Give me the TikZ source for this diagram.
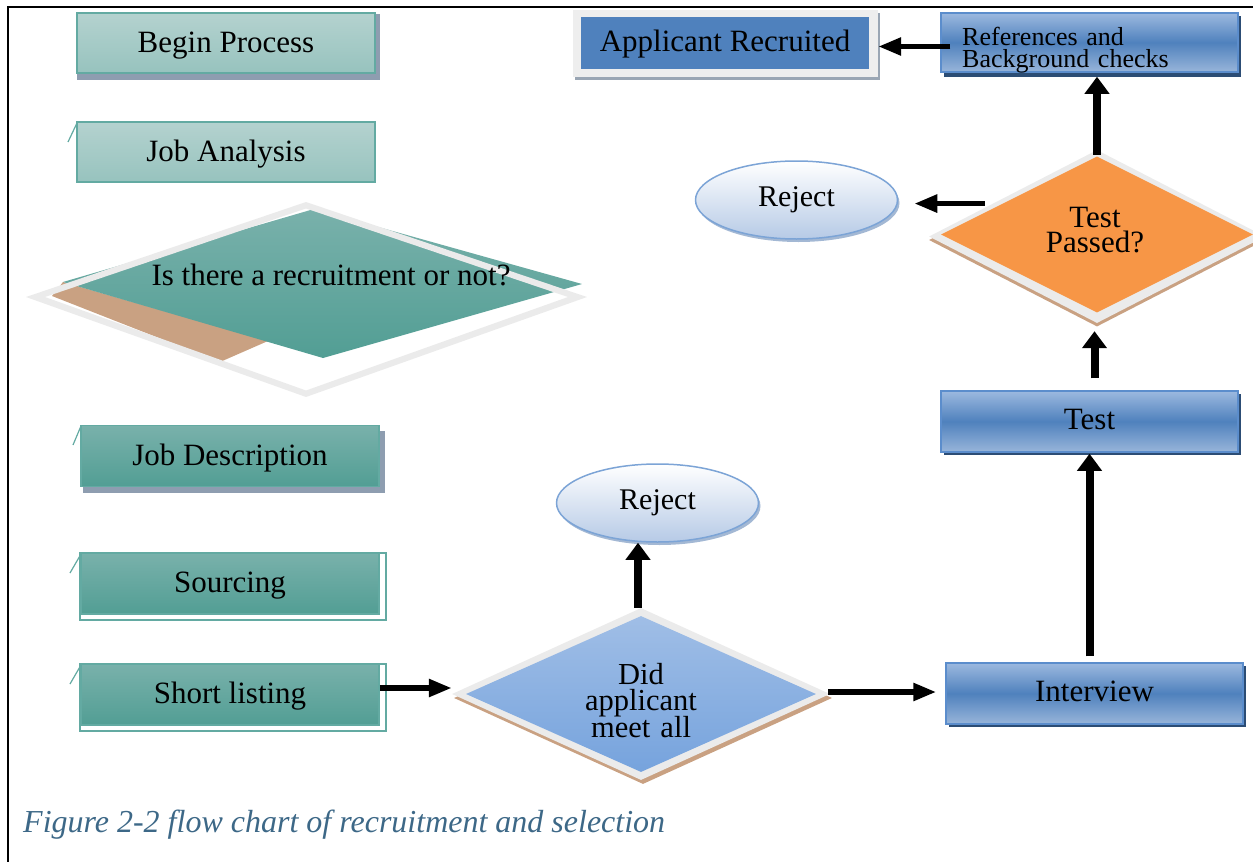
\documentclass[tikz,border=0pt]{standalone}
\usepackage{fontspec}
\setmainfont{Liberation Serif}
\usetikzlibrary{shapes.geometric,arrows.meta,calc}
\definecolor{bandgray}{HTML}{EBEBEB}
\definecolor{tanc}{HTML}{C9A182}
\definecolor{orangec}{HTML}{F79646}
\definecolor{blueT}{HTML}{A0BEE6}
\definecolor{blueB}{HTML}{76A3DD}
\definecolor{dtealT}{HTML}{79B1AB}
\definecolor{dtealB}{HTML}{529E94}
\definecolor{ltealT}{HTML}{B4D2CF}
\definecolor{ltealB}{HTML}{97C3BE}
\definecolor{tealbd}{HTML}{63AAA2}
\definecolor{shgray}{HTML}{8E9DB0}
\definecolor{navyc}{HTML}{2C4D75}
\definecolor{tubeT}{HTML}{9CB9DF}
\definecolor{tubeM}{HTML}{4F81BD}
\definecolor{tubeB}{HTML}{98B5DA}
\definecolor{tubebd}{HTML}{5B8DCC}
\definecolor{applblue}{HTML}{4F81BD}
\definecolor{framegray}{HTML}{EEEEEE}
\definecolor{frsh}{HTML}{9AA6B4}
\definecolor{ellB}{HTML}{B6CAE6}
\definecolor{ellbd}{HTML}{7CA4D6}
\definecolor{ellsh}{HTML}{A3B8D4}
\definecolor{capcol}{HTML}{3D6887}
\newcommand\szA{\fontsize{31pt}{36pt}\selectfont}
\newcommand\szB{\fontsize{30pt}{35pt}\selectfont}
\newcommand\szR{\fontsize{31pt}{36pt}\selectfont}
\newcommand\szD{\fontsize{30.5pt}{26.5pt}\selectfont\lineskiplimit=-60pt}
\newcommand\szT{\fontsize{31pt}{25pt}\selectfont\lineskiplimit=-60pt}
\newcommand\szC{\fontsize{26pt}{22pt}\selectfont\lineskiplimit=-60pt}
\newcommand\szCap{\fontsize{32pt}{36pt}\selectfont}
\begin{document}
\begin{tikzpicture}[x=1pt,y=-1pt,
  tbox/.style={rectangle,inner sep=0pt,text depth=0pt},
  lteal/.style={tbox,draw=tealbd,line width=1.5pt,top color=ltealT,bottom color=ltealB,font=\szA,text height=18pt,minimum width=298pt,minimum height=60pt},
  dteal/.style={tbox,draw=tealbd,line width=1.5pt,top color=dtealT,bottom color=dtealB,font=\szA,text height=18pt,minimum width=298pt,minimum height=61pt},
  tube/.style={tbox,draw=tubebd,line width=1.5pt,top color=tubeT,bottom color=tubeB,middle color=tubeM,font=\szA,text height=16pt},
  rejectsh/.style={ellipse,inner sep=0pt,minimum width=202pt,minimum height=78pt,draw=ellbd,line width=1.5pt,top color=white,bottom color=ellB,font=\szB,text height=13pt,text depth=0pt},
  ellshadow/.style={ellipse,inner sep=0pt,minimum width=202pt,minimum height=78pt,fill=ellsh},
  dia/.style={diamond,inner sep=0pt},
  lbl/.style={anchor=base,inner sep=0pt},
  mlbl/.style={anchor=base,inner sep=0pt,text width=200pt,align=center},
  artif/.style={draw=tealbd,line width=1.2pt},
  harrow/.style={line width=5.5pt,-{Triangle[length=23pt,width=17pt]}},
  varrow/.style={line width=8pt,-{Triangle[length=17pt,width=24pt]}}]
\useasboundingbox (0,0) rectangle (1253,862);
% frame
\draw[line width=2.5pt] (8,862) -- (8,7) -- (1253,7);

% Begin Process
\fill[shgray] (77,14) rectangle (380,80);
\node[lteal] (begin) at (226,43) {Begin Process};
% Job Analysis
\node[lteal] (janal) at (226,152) {Job Analysis};
\draw[artif] (68,142) -- (77,123);

% big teal decision
\fill[tanc] (52,296) -- (63,282) -- (268,341) -- (220,362) -- cycle;
\shade[top color=dtealT,bottom color=dtealB] (314,209) -- (582,284) -- (323,358) -- (63,282) -- cycle;
\fill[bandgray,even odd rule] (306,202) -- (587,297) -- (306,397) -- (26,297) -- cycle
  (306,208.5) -- (568,297) -- (306,390.5) -- (45,297) -- cycle;
\node[lbl,font=\szA] (recr) at (331,285) {Is there a recruitment or not?};

% Job Description
\fill[shgray] (83,431) rectangle (385,493);
\node[dteal] (jdesc) at (230,456) {Job Description};
\draw[artif] (73,445) -- (81,426);
% Sourcing
\draw[tealbd,line width=1.5pt,fill=white] (80,553) rectangle (386,620);
\node[dteal] (src) at (230,583.5) {Sourcing};
\draw[artif] (70,573) -- (81,554);
% Short listing
\draw[tealbd,line width=1.5pt,fill=white] (80,664) rectangle (386,731);
\node[dteal] (short) at (230,694.5) {Short listing};
\draw[artif] (70,684) -- (81,665);

% Did applicant diamond
\node[dia,fill=tanc,minimum width=378pt,minimum height=172pt] (didsh) at (643,698) {};
\node[dia,fill=bandgray,minimum width=378pt,minimum height=172pt] (did) at (641,694) {};
\node[dia,top color=blueT,bottom color=blueB,minimum width=350pt,minimum height=156pt] (didin) at (641,694) {};
\node[mlbl,font=\szD] (didtxt) at (641,684) {Did\\applicant\\meet all};

% Reject (lower)
\node[ellshadow] (rej2sh) at (659.5,506) {};
\node[rejectsh] (rej2) at (657.5,503) {Reject};

% Applicant Recruited
\fill[frsh] (575,13) rectangle (880,80);
\node[rectangle,inner sep=0pt,fill=framegray,minimum width=305pt,minimum height=67pt] (applfr) at (725.5,43.5) {};
\node[tbox,fill=applblue,minimum width=288pt,minimum height=52pt,font=\szR,text height=16pt] (appl) at (725,43) {Applicant Recruited};

% References
\fill[navyc] (944,16) rectangle (1241,77);
\node[tube,minimum width=297pt,minimum height=59pt] (refs) at (1089.5,42.5) {};
\node[anchor=base west,inner sep=0pt,font=\szC,text width=270pt,align=left] (reftxt) at (962,45) {References and\\Background checks};

% Reject (upper)
\node[ellshadow] (rej1sh) at (798.5,203) {};
\node[rejectsh] (rej1) at (796.5,200) {Reject};

% Test Passed diamond
\node[dia,fill=tanc,minimum width=336pt,minimum height=173pt] (tpsh) at (1097,240) {};
\node[dia,fill=bandgray,minimum width=336pt,minimum height=173pt] (tp) at (1097,236.5) {};
\node[dia,fill=orangec,minimum width=312pt,minimum height=156pt] (tpin) at (1097,234.5) {};
\node[mlbl,font=\szT] (tptxt) at (1095,227) {Test\\Passed?};

% Test
\fill[navyc] (944,394) rectangle (1241,455);
\node[tube,minimum width=297pt,minimum height=61pt] (test) at (1089.5,421.5) {Test};
% Interview
\fill[navyc] (949,666) rectangle (1246,727);
\node[tube,minimum width=297pt,minimum height=61pt] (interview) at (1094.5,693.5) {Interview};

% connectors
\draw[harrow] ([yshift=6.5pt]short.east) -- ([yshift=6.5pt]short.east -| did.west);
\draw[harrow,shorten >=9pt] ([xshift=-2pt,yshift=2pt]did.east) -- ([yshift=2pt]did.east -| interview.west);
\draw[varrow] ([xshift=-3pt]did.north) -- ([xshift=-3pt]did.north |- rej2.south);
\draw[varrow,shorten <=6pt,shorten >=1pt] ([xshift=-5pt]interview.north) -- ([xshift=-5pt]interview.north |- test.south);
\draw[varrow,shorten <=12pt,shorten >=8pt] ([xshift=5pt]test.north) -- ([xshift=5pt]test.north |- tp.south);
\draw[varrow,shorten >=4pt] ([yshift=-5pt]tp.north) -- (tp.north |- refs.south);
\coordinate (tpl) at ($(tp.north)!0.62!(tp.west)+(-8,0)$);
\draw[harrow,shorten >=16pt] (tpl) -- (tpl -| rej1.east);
\draw[harrow] ([xshift=10pt,yshift=-4pt]refs.west) -- ([yshift=-4pt]refs.west -| applfr.east);

% caption
\node[anchor=base west,inner sep=0pt,font=\itshape\szCap,text=capcol] (cap) at (23,832) {Figure 2-2 flow chart of recruitment and selection};
\end{tikzpicture}
\end{document}
